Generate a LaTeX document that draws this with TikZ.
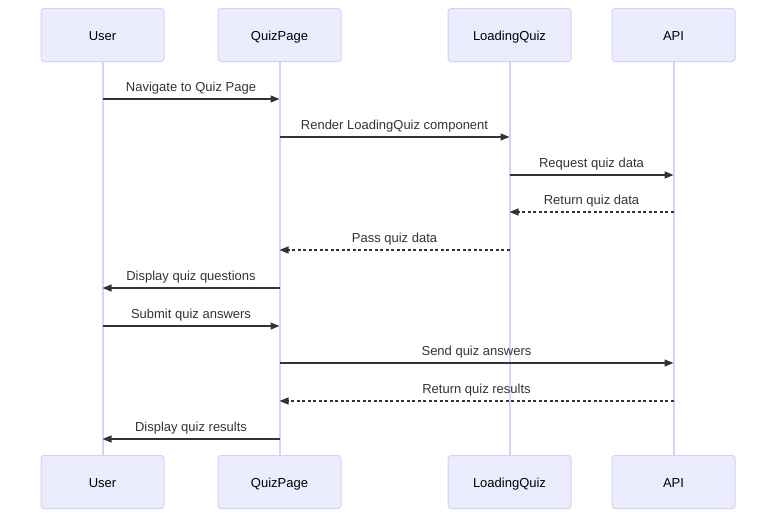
\documentclass[tikz,border=0pt]{standalone}
\usepackage{tikz}
\usetikzlibrary{arrows.meta}
\usepackage{fontspec}
\setmainfont{Liberation Sans}

\begin{document}
\begin{tikzpicture}[x=1pt,y=-1pt,
  actor/.style={draw={rgb, 255:red, 214; green, 208; blue, 245}, fill={rgb, 255:red, 236; green, 236; blue, 255}, line width=1pt, rounded corners=3pt, minimum width=123pt, minimum height=53pt, inner sep=0pt, text height=10pt, text depth=0pt, font=\fontsize{13}{15}\selectfont},
  lifeline/.style={draw={rgb, 255:red, 218; green, 210; blue, 246}, line width=2pt},
  msg/.style={draw={rgb, 255:red, 51; green, 51; blue, 51}, line width=1.2pt, -{Triangle[length=9pt,width=7pt]}},
  reply/.style={msg, dash pattern={on 3pt off 2.5pt}},
  lbl/.style={anchor=base, yshift=8pt, inner sep=0pt, text={rgb, 255:red, 51; green, 51; blue, 51}, font=\fontsize{13}{15}\selectfont}]
\useasboundingbox (0,0) rectangle (784,523);

% participants, top and bottom
\node[actor] (user) at (102.5,35) {User};
\node[actor] (quizpage) at (279.5,35) {QuizPage};
\node[actor] (loading) at (509.5,35) {LoadingQuiz};
\node[actor] (api) at (673.5,35) {API};
\node[actor] (userB) at (102.5,482) {User};
\node[actor] (quizpageB) at (279.5,482) {QuizPage};
\node[actor] (loadingB) at (509.5,482) {LoadingQuiz};
\node[actor] (apiB) at (673.5,482) {API};

\draw[lifeline] (user) -- (userB);
\draw[lifeline] (quizpage) -- (quizpageB);
\draw[lifeline] (loading) -- (loadingB);
\draw[lifeline] (api) -- (apiB);

% message rows
\path (0,99) coordinate (m1) (0,137) coordinate (m2) (0,175) coordinate (m3)
      (0,212) coordinate (m4) (0,250) coordinate (m5) (0,288) coordinate (m6)
      (0,326) coordinate (m7) (0,363) coordinate (m8) (0,401) coordinate (m9)
      (0,439) coordinate (m10);

\draw[msg] (user |- m1) -- node[lbl] {Navigate to Quiz Page} (quizpage |- m1);
\draw[msg] (quizpage |- m2) -- node[lbl] {Render LoadingQuiz component} (loading |- m2);
\draw[msg] (loading |- m3) -- node[lbl] {Request quiz data} (api |- m3);
\draw[reply] (api |- m4) -- node[lbl] {Return quiz data} (loading |- m4);
\draw[reply] (loading |- m5) -- node[lbl] {Pass quiz data} (quizpage |- m5);
\draw[msg] (quizpage |- m6) -- node[lbl] {Display quiz questions} (user |- m6);
\draw[msg] (user |- m7) -- node[lbl] {Submit quiz answers} (quizpage |- m7);
\draw[msg] (quizpage |- m8) -- node[lbl] {Send quiz answers} (api |- m8);
\draw[reply] (api |- m9) -- node[lbl] {Return quiz results} (quizpage |- m9);
\draw[msg] (quizpage |- m10) -- node[lbl] {Display quiz results} (user |- m10);

\end{tikzpicture}
\end{document}
